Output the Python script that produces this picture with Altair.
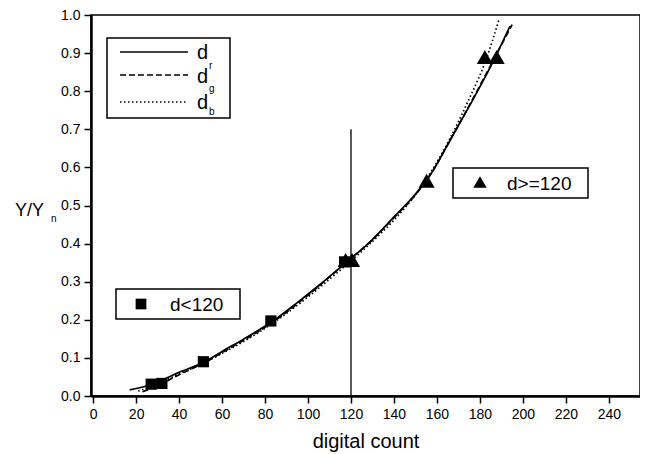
import altair as alt
import pandas as pd

# ---- curves ----
dr_x = [17, 25, 30, 40, 52, 60, 70, 84, 95, 105, 118, 128, 140, 150, 158, 166, 175, 185, 194]
dr_y = [0.016, 0.027, 0.037, 0.062, 0.09, 0.117, 0.149, 0.198, 0.245, 0.29, 0.352, 0.40, 0.47, 0.53, 0.59, 0.67, 0.76, 0.865, 0.971]
dg_x = [23, 30, 40, 52, 60, 70, 84, 95, 105, 118, 128, 140, 150, 158, 166, 175, 185, 195]
dg_y = [0.011, 0.027, 0.056, 0.088, 0.114, 0.146, 0.195, 0.242, 0.288, 0.352, 0.40, 0.468, 0.528, 0.59, 0.67, 0.762, 0.868, 0.975]
db_x = [21, 30, 40, 52, 60, 70, 84, 95, 105, 118, 128, 140, 150, 158, 166, 175, 182, 189]
db_y = [0.013, 0.031, 0.058, 0.088, 0.112, 0.143, 0.193, 0.238, 0.283, 0.345, 0.395, 0.462, 0.528, 0.595, 0.675, 0.78, 0.87, 0.99]

# ---- measured points ----
sq_x = [27, 32, 51.3, 82.7, 117]
sq_y = [0.031, 0.033, 0.09, 0.197, 0.352]
tri_x = [117.5, 120.5, 155.2, 182.3, 187.8]
tri_y = [0.357, 0.357, 0.565, 0.89, 0.89]

# ---- divider ----
vline_x = [120]
vline_top = [0.7]

x_ticks = list(range(0, 241, 20))
y_ticks = [round(i * 0.1, 1) for i in range(11)]

FONT = "Liberation Sans"
xs = alt.Scale(domain=[-1, 254.5], nice=False, zero=False)
ys = alt.Scale(domain=[0, 1], nice=False)
X = alt.X("x:Q", scale=xs, axis=alt.Axis(values=x_ticks, title=None, format="d"))
Y = alt.Y("y:Q", scale=ys, axis=alt.Axis(values=y_ticks, title=None, format=".1f"))


def curve(xv, yv, dash):
    df = pd.DataFrame({"x": xv, "y": yv})
    kw = dict(color="black", strokeWidth=1.7, interpolate="monotone")
    if dash:
        kw["strokeDash"] = dash
    return alt.Chart(df).mark_line(**kw).encode(x=X, y=Y)


line_r = curve(dr_x, dr_y, None)
line_g = curve(dg_x, dg_y, [6, 3])
line_b = curve(db_x, db_y, [1.5, 2.5])

squares = alt.Chart(pd.DataFrame({"x": sq_x, "y": sq_y})).mark_point(
    shape="square", filled=True, color="black", size=125, opacity=1
).encode(x=X, y=Y)
triangles = alt.Chart(pd.DataFrame({"x": tri_x, "y": tri_y})).mark_point(
    shape="triangle-up", filled=True, color="black", size=260, opacity=1
).encode(x=X, y=Y)

vline = alt.Chart(pd.DataFrame({"x": vline_x, "y": [0], "y2": vline_top})).mark_rule(
    color="black", strokeWidth=1.3
).encode(x=X, y=Y, y2="y2:Q")

one = pd.DataFrame({"a": [0]})


def box(x1, x2, y1, y2):
    return alt.Chart(one).mark_rect(fill="white", stroke="black", strokeWidth=1.5).encode(
        x=alt.value(x1), x2=alt.value(x2), y=alt.value(y1), y2=alt.value(y2)
    )


def hline(x1, x2, y, dash):
    kw = dict(color="black", strokeWidth=1.5)
    if dash:
        kw["strokeDash"] = dash
    return alt.Chart(one).mark_rule(**kw).encode(
        x=alt.value(x1), x2=alt.value(x2), y=alt.value(y)
    )


def txt(s, x, y, size, align="left", baseline="alphabetic"):
    return alt.Chart(one).mark_text(
        text=s, font=FONT, fontSize=size, color="black", align=align, baseline=baseline
    ).encode(x=alt.value(x), y=alt.value(y))


legend1 = [
    box(16, 139, 23, 103),
    hline(29, 97, 37, None),
    hline(29, 97, 60, [6, 3]),
    hline(29, 97, 87, [1.5, 2.5]),
    txt("d", 106, 44, 20), txt("r", 118, 54, 10),
    txt("d", 106, 68, 20), txt("g", 118, 77, 10),
    txt("d", 106, 94, 20), txt("b", 118, 100, 10),
]

legend2 = [
    box(25, 149, 274, 304),
    alt.Chart(one).mark_point(shape="square", filled=True, color="black", size=115, opacity=1).encode(
        x=alt.value(50), y=alt.value(289)
    ),
    txt("d<120", 79, 296, 19),
]

legend3 = [
    box(362, 497, 153, 183),
    alt.Chart(one).mark_point(shape="triangle-up", filled=True, color="black", size=180, opacity=1).encode(
        x=alt.value(389), y=alt.value(167)
    ),
    txt("d>=120", 416, 175, 19),
]

titles = [
    txt("digital count", 275, 433, 20, align="center"),
    txt("Y/Y", -76, 201, 18),
    txt("n", -40, 207, 10),
]

chart = alt.layer(
    vline, line_r, line_g, line_b, squares, triangles,
    *legend1, *legend2, *legend3, *titles
).properties(
    width=549, height=381, autosize="none",
    padding={"left": 83, "top": 7, "right": 0, "bottom": 58},
).configure_axis(
    domainColor="black", domainWidth=2.5, tickColor="black", tickWidth=1.5, tickSize=7,
    labelFont=FONT, labelFontSize=14, labelColor="black", grid=False, labelPadding=4,
).configure_view(stroke="black", strokeWidth=1.5)

chart.save("out.html", embed_options={"renderer": "svg", "actions": False})
